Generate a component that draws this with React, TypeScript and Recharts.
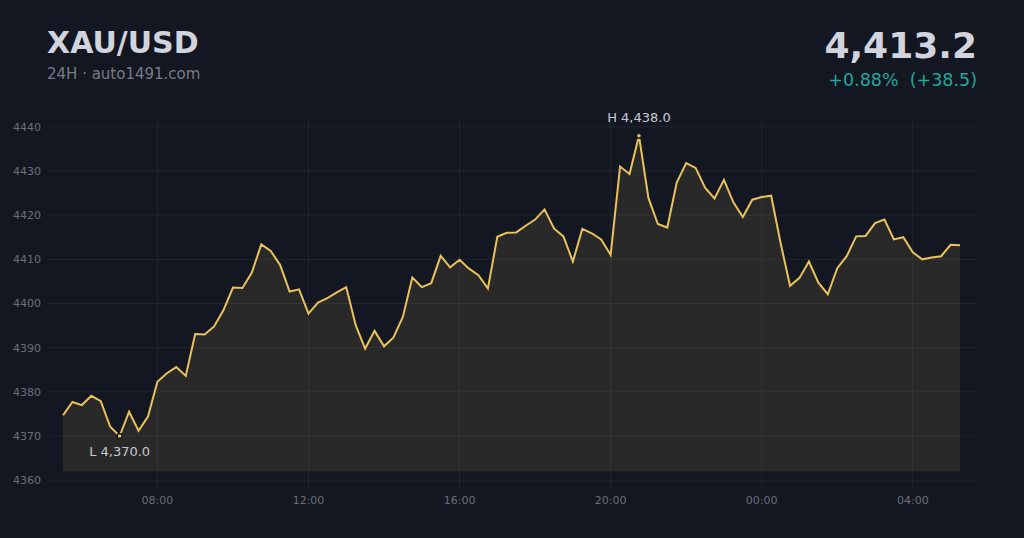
import React from "react";
import {
  ComposedChart,
  Area,
  XAxis,
  YAxis,
  CartesianGrid,
  ReferenceDot,
} from "recharts";

// 15-minute closes, starting 05:30
const START_MIN = 330;
const STEP_MIN = 15;
const PRICES = [
  4374.7, 4377.7, 4377.0, 4379.1, 4377.9, 4372.1, 4370.0, 4375.5, 4371.2, 4374.4,
  4382.3, 4384.2, 4385.6, 4383.6, 4393.1, 4393.0, 4394.8, 4398.5, 4403.6, 4403.5,
  4407.0, 4413.4, 4411.9, 4408.7, 4402.7, 4403.2, 4397.7, 4400.2, 4401.2, 4402.5,
  4403.7, 4395.1, 4389.8, 4393.8, 4390.3, 4392.3, 4397.0, 4405.9, 4403.7, 4404.6,
  4410.8, 4408.2, 4409.9, 4407.9, 4406.4, 4403.4, 4415.1, 4416.0, 4416.1, 4417.6,
  4419.0, 4421.3, 4417.0, 4415.2, 4409.5, 4416.9, 4415.9, 4414.5, 4411.0, 4431.0,
  4429.3, 4438.0, 4423.9, 4418.0, 4417.2, 4427.4, 4431.8, 4430.7, 4426.2, 4423.8,
  4428.0, 4422.9, 4419.6, 4423.5, 4424.1, 4424.4, 4413.7, 4404.0, 4405.8, 4409.5,
  4404.7, 4402.1, 4408.0, 4410.7, 4415.2, 4415.3, 4418.2, 4419.0, 4414.5, 4415.0,
  4411.6, 4410.0, 4410.4, 4410.7, 4413.3, 4413.2,
];
const Y_TICKS = [4360, 4370, 4380, 4390, 4400, 4410, 4420, 4430, 4440];
const X_TICKS = [480, 720, 960, 1200, 1440, 1680]; // 08:00 ... 04:00
const SYMBOL = "XAU/USD";
const SUBTITLE = "24H · auto1491.com";
const AREA_BASE = 4362;

const BG = "#131722";
const GOLD = "#e9c25b";
const FONT = "DejaVu Sans";

const data = PRICES.map((p, i) => ({ t: START_MIN + i * STEP_MIN, price: p }));

const fmt = (v: number) =>
  v.toLocaleString("en-US", { minimumFractionDigits: 1, maximumFractionDigits: 1 });

const hi = Math.max(...PRICES);
const lo = Math.min(...PRICES);
const hiPoint = data[PRICES.indexOf(hi)];
const loPoint = data[PRICES.indexOf(lo)];
const last = PRICES[PRICES.length - 1];
const change = last - PRICES[0];
const pct = (change / PRICES[0]) * 100;

const timeLabel = (m: number) =>
  `${String(Math.floor(m / 60) % 24).padStart(2, "0")}:${String(m % 60).padStart(2, "0")}`;

export default function App() {
  return (
    <div
      style={{
        position: "absolute",
        left: 0,
        top: 0,
        width: 1024,
        height: 538,
        background: BG,
        overflow: "hidden",
      }}
    >
      <ComposedChart
        width={1024}
        height={538}
        data={data}
        margin={{ top: 118, right: 46, bottom: 19, left: 0 }}
      >
        <CartesianGrid stroke="#ffffff" strokeOpacity={0.06} syncWithTicks />
        <XAxis
          dataKey="t"
          type="number"
          domain={["dataMin", "dataMax"]}
          ticks={X_TICKS}
          tickFormatter={timeLabel}
          padding={{ left: 16, right: 18 }}
          axisLine={false}
          tickLine={false}
          tickSize={0}
          tickMargin={7}
          height={30}
          tick={{ fill: "#6b6e78", fontSize: 11, fontFamily: FONT }}
        />
        <YAxis
          type="number"
          domain={[4358, 4442]}
          ticks={Y_TICKS}
          width={47}
          axisLine={false}
          tickLine={false}
          tickSize={0}
          tickMargin={6}
          tick={{ fill: "#6b6e78", fontSize: 11, fontFamily: FONT }}
        />
        <Area
          type="linear"
          dataKey="price"
          baseValue={AREA_BASE}
          stroke={GOLD}
          strokeWidth={2}
          fill="#cdb060"
          fillOpacity={0.12}
          dot={false}
          activeDot={false}
          isAnimationActive={false}
        />
        <ReferenceDot
          x={hiPoint.t}
          y={hi}
          r={2.5}
          fill={GOLD}
          stroke={BG}
          strokeWidth={1.5}
          label={{
            value: `H ${fmt(hi)}`,
            position: "top",
            offset: 11,
            fill: "#c7cad3",
            fontSize: 13,
            fontFamily: FONT,
          }}
        />
        <ReferenceDot
          x={loPoint.t}
          y={lo}
          r={2.5}
          fill={GOLD}
          stroke={BG}
          strokeWidth={1.5}
          label={{
            value: `L ${fmt(lo)}`,
            position: "bottom",
            offset: 8,
            fill: "#c7cad3",
            fontSize: 13,
            fontFamily: FONT,
          }}
        />
      </ComposedChart>

      {/* header */}
      <svg
        width={1024}
        height={110}
        style={{ position: "absolute", left: 0, top: 0, pointerEvents: "none" }}
      >
        <text x={47} y={53} fill="#d1d4dc" fontSize={30} fontWeight="bold" fontFamily={FONT}>
          {SYMBOL}
        </text>
        <text x={47} y={79} fill="#787b86" fontSize={15} fontFamily={FONT}>
          {SUBTITLE}
        </text>
        <text
          x={977}
          y={58}
          textAnchor="end"
          fill="#d1d4dc"
          fontSize={36}
          fontWeight="bold"
          fontFamily={FONT}
        >
          {fmt(last)}
        </text>
        <text
          x={977}
          y={86}
          textAnchor="end"
          fill="#26a69a"
          fontSize={17.5}
          fontFamily={FONT}
          style={{ whiteSpace: "pre" }}
        >
          {`+${pct.toFixed(2)}%  (+${change.toFixed(1)})`}
        </text>
      </svg>
    </div>
  );
}
